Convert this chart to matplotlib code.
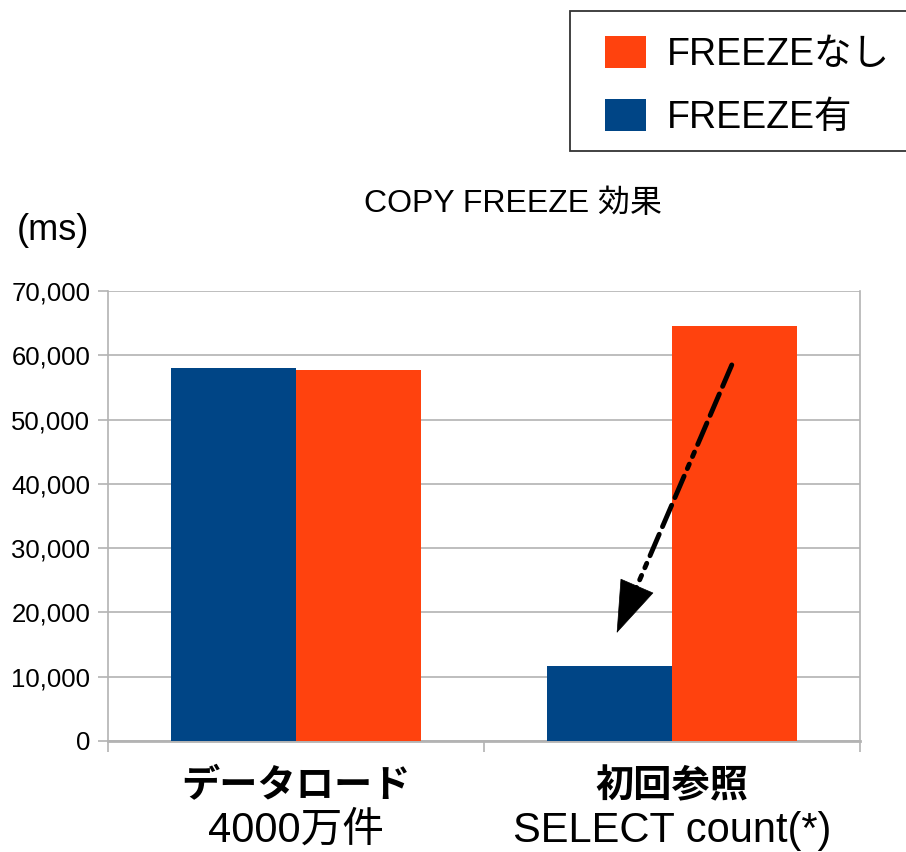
import matplotlib
matplotlib.use("Agg")
import matplotlib.pyplot as plt
from matplotlib.patches import Patch, Rectangle
from matplotlib.ticker import FuncFormatter, FixedLocator

plt.rcParams['font.family'] = ['Liberation Sans', 'Noto Sans CJK JP', 'DejaVu Sans']

# ---- data ----
categories_main = ["データロード", "初回参照"]
categories_sub = ["4000万件", "SELECT count(*)"]
series_names = ["FREEZE有", "FREEZEなし"]
freeze_on = [58100, 11700]
freeze_off = [57700, 64500]
title = "COPY FREEZE 効果"
unit_label = "(ms)"
y_ticks = [0, 10000, 20000, 30000, 40000, 50000, 60000, 70000]

BLUE = "#004586"
ORANGE = "#ff420e"
GRID = "#b3b3b3"

W, H = 906, 852
fig = plt.figure(figsize=(W/100, H/100), dpi=100)
ax = fig.add_axes([108/W, 1-741/H, (860-108)/W, (741-291)/H])

x = list(range(len(categories_main)))
w = 1/3
ax.bar([i - w/2 for i in x], freeze_on, width=w, color=BLUE, zorder=3, linewidth=0)
ax.bar([i + w/2 for i in x], freeze_off, width=w, color=ORANGE, zorder=3, linewidth=0)

ax.set_xlim(-0.5, len(categories_main) - 0.5)
ax.set_ylim(0, y_ticks[-1])
ax.set_yticks(y_ticks)
ax.yaxis.set_major_formatter(FuncFormatter(lambda v, p: f"{int(v):,}"))
ax.tick_params(axis='y', labelsize=18.5, length=7.2, width=1.2, color=GRID, pad=5.5)
ax.grid(axis='y', color=GRID, linewidth=1.2, zorder=0)

ax.set_xticks(x)
ax.set_xticklabels([])
ax.tick_params(axis='x', which='major', length=0)
ax.xaxis.set_minor_locator(FixedLocator([i - 0.5 for i in range(len(x) + 1)]))
ax.tick_params(axis='x', which='minor', length=8, width=1.2, color=GRID)

for s in ['left', 'right']:
    ax.spines[s].set_color(GRID)
    ax.spines[s].set_linewidth(1.2)
ax.spines['bottom'].set_color(GRID)
ax.spines['bottom'].set_linewidth(2)
ax.spines['top'].set_visible(False)

tr = ax.get_xaxis_transform()
for i, (m, s) in enumerate(zip(categories_main, categories_sub)):
    ax.text(i, -0.1, m, transform=tr, ha='center', va='center',
            fontsize=27.5, fontweight='bold', family=['Noto Sans CJK JP'])
    ax.text(i, -0.2, s, transform=tr, ha='center', va='center', fontsize=30)

# arrow: dashed shaft + solid head
ax.annotate("", xy=(0.904, 23700), xytext=(1.159, 58500),
            arrowprops=dict(arrowstyle="-", color='black', lw=3.5,
                            linestyle=(0, (4.8, 1.7, 4.8, 1.7, 4.8, 1.7, 1.0, 1.7, 1.0, 1.7)),
                            shrinkA=0, shrinkB=0),
            zorder=5)
ax.annotate("", xy=(0.853, 16800), xytext=(0.906, 24000),
            arrowprops=dict(arrowstyle="-|>,head_length=36,head_width=12.5",
                            mutation_scale=1, color='black', lw=0.5,
                            shrinkA=0, shrinkB=0),
            zorder=6)

fig.text(513/W, 1-204/H, title, ha='center', va='center', fontsize=23)
fig.text(53/W, 1-230/H, unit_label, ha='center', va='center', fontsize=26)

# legend (frame drawn separately)
fig.patches.append(Rectangle((570/W, 1-151/H), (920-570)/W, (151-10.7)/H,
                             transform=fig.transFigure, facecolor='white',
                             edgecolor='#333333', linewidth=1.3, zorder=1))
handles = [Patch(facecolor=ORANGE, edgecolor='none'), Patch(facecolor=BLUE, edgecolor='none')]
leg = fig.legend(handles, [series_names[1], series_names[0]], loc='upper left',
                 bbox_to_anchor=(605/W, 1-36/H), borderaxespad=0,
                 fontsize=27, frameon=False,
                 handlelength=1.09, handleheight=0.92, handletextpad=0.56,
                 borderpad=0, labelspacing=0.7)
leg.set_zorder(2)

fig.savefig("out.png", dpi=100)
